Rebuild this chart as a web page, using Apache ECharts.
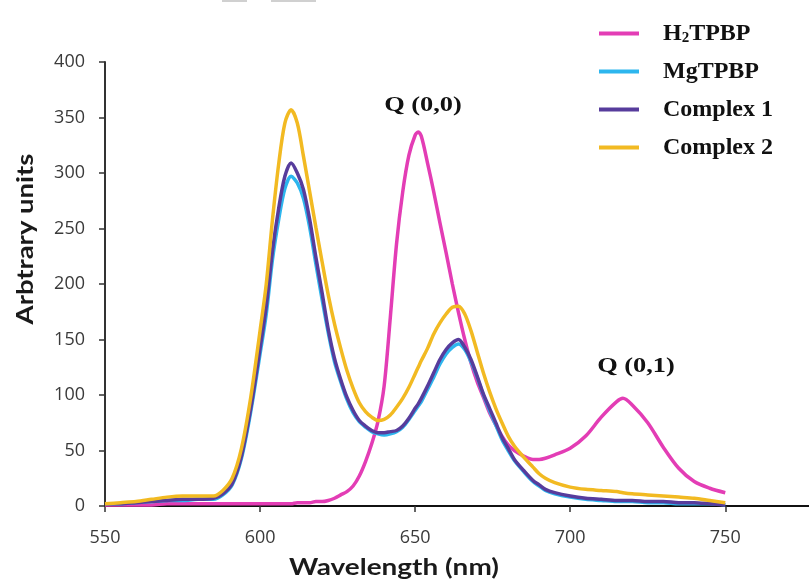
<!DOCTYPE html>
<html>
<head>
<meta charset="utf-8">
<script src="https://cdn.jsdelivr.net/npm/echarts@6/dist/echarts.min.js"></script>
<style>
html,body{margin:0;padding:0;background:#fff;}
#chart{width:809px;height:579px;}
</style>
</head>
<body>
<div id="chart"></div>
<script>
// Wavelength sample points (nm)
const wavelengths = [550,555,560,565,570,575,580,585,588,591,594,597,
  600,602,604,606,608,610,612,614,616,618,620,622,624,626,628,630,632,634,636,638,640,642,644,646,648,650,
  651,
  652,654,656,658,660,662,664,666,668,670,672,674,676,678,680,682,
  685,688,690,692,695,
  700,705,710,715,
  717,
  720,725,730,735,740,745,750];

const seriesNames = ['H2TPBP', 'MgTPBP', 'Complex 1', 'Complex 2'];

const h2tpbp = [1,1,1,1,2,2,2,2,
  2,2,2,2,
  2,2,2,2,2,2,3,3,3,4,4,5,7,10,13,18,27,40,56,76,108,170,236,283,316,334,
  337,
  333,309,283,255,228,200,174,150,129,112,98,84,73,63,55,50,
  45,42,42,43,46,
  52,63,80,94,
  97,
  91,75,53,34,22,16,12];

const mgtpbp = [2,2,3,4,5,5,6,6,
  10,19,43,85,
  137,173,222,258,286,297,291,277,251,218,186,156,130,112,96,84,76,71,67,65,64,65,67,71,78,86,
  90,
  94,105,116,128,137,143,146,141,130,116,100,86,73,60,50,41,
  31,22,18,14,11,
  8,6,5,4,
  4,
  4,3,3,2,2,2,1];

const complex1 = [2,2,3,4,5,6,6,7,
  11,20,45,88,
  142,180,230,268,297,309,300,285,258,224,192,159,133,114,98,86,77,72,68,66,66,67,68,72,79,88,
  92,
  97,108,120,132,141,147,150,143,132,117,101,88,75,62,52,42,
  32,23,19,15,12,
  9,7,6,5,
  5,
  5,4,4,3,3,2,1];

const complex2 = [2,3,4,6,8,9,9,9,
  14,25,52,98,
  158,200,258,308,345,357,345,315,283,251,220,190,164,142,122,106,93,85,80,77,78,82,89,97,107,119,
  125,
  131,142,155,165,173,179,180,173,158,139,120,103,88,75,63,54,
  44,35,29,25,21,
  17,15,14,13,
  12,
  11,10,9,8,7,5,3];

const xTicks = [550, 600, 650, 700, 750];
const yTicks = [0, 50, 100, 150, 200, 250, 300, 350, 400];
const annotations = ['Q (0,0)', 'Q (0,1)'];

const colors = ['#E33DB5', '#2DB6EE', '#573C9C', '#F2BA22'];
const values = [h2tpbp, mgtpbp, complex1, complex2];

const chart = echarts.init(document.getElementById('chart'), null, {renderer: 'canvas'});

const series = seriesNames.map((name, i) => ({
  name: name,
  type: 'line',
  data: wavelengths.map((w, j) => [w, values[i][j]]),
  showSymbol: false,
  smooth: 0.3,
  lineStyle: {width: 3.5, color: colors[i]},
  itemStyle: {color: colors[i]},
  z: 2 + i,
  emphasis: {disabled: true}
}));

const option = {
  animation: false,
  backgroundColor: '#ffffff',
  grid: {left: 105, right: 0, top: 62, bottom: 73, containLabel: false, outerBoundsMode: 'none'},
  xAxis: {
    type: 'value',
    min: xTicks[0],
    max: 777,
    interval: 50,
    axisLine: {show: true, lineStyle: {color: '#111', width: 2}},
    axisTick: {show: true, length: 6, lineStyle: {color: '#333', width: 1.5}},
    axisLabel: {
      show: true, margin: 23, showMaxLabel: false,
      fontFamily: 'Open Sans', fontSize: 18, color: '#3a3a3a',
      formatter: v => (xTicks.indexOf(v) >= 0 ? String(v) : '')
    },
    splitLine: {show: false}
  },
  yAxis: {
    type: 'value',
    min: yTicks[0],
    max: yTicks[yTicks.length - 1],
    interval: 50,
    axisLine: {show: true, lineStyle: {color: '#333', width: 2}},
    axisTick: {show: true, length: 6, lineStyle: {color: '#333', width: 1.5}},
    axisLabel: {
      show: true, margin: 20,
      fontFamily: 'Open Sans', fontSize: 18, color: '#3a3a3a'
    },
    splitLine: {show: false}
  },
  legend: {
    show: true,
    orient: 'vertical',
    left: 594,
    top: 16,
    itemWidth: 40,
    itemHeight: 4,
    itemGap: 13,
    icon: 'rect',
    data: seriesNames,
    formatter: name => name === 'H2TPBP' ? 'H{sub|2}TPBP' : name,
    textStyle: {
      fontFamily: 'Liberation Serif', fontWeight: 'bold', fontSize: 24,
      color: '#111', lineHeight: 25, padding: [0, 0, 0, 19],
      rich: {
        sub: {fontFamily: 'Liberation Serif', fontWeight: 'bold', fontSize: 15, color: '#111',
              verticalAlign: 'bottom', lineHeight: 25, padding: [6, 0, 0, 0]}
      }
    }
  },
  graphic: [
    {type: 'text', x: 423, y: 105, scaleX: 1.2,
     style: {text: annotations[0], font: 'bold 22px "Liberation Serif"', fill: '#111', align: 'center', verticalAlign: 'middle'}},
    {type: 'text', x: 636, y: 366, scaleX: 1.2,
     style: {text: annotations[1], font: 'bold 22px "Liberation Serif"', fill: '#111', align: 'center', verticalAlign: 'middle'}},
    {type: 'text', x: 394, y: 568, scaleX: 1.27,
     style: {text: 'Wavelength (nm)', font: 'bold 22px Lato', fill: '#1a1a1a', align: 'center', verticalAlign: 'middle'}},
    {type: 'text', x: 26, y: 239, rotation: Math.PI / 2, scaleX: 1.25,
     style: {text: 'Arbtrary units', font: 'bold 22px Lato', fill: '#1a1a1a', align: 'center', verticalAlign: 'middle'}},
    {type: 'rect', shape: {x: 222, y: 0, width: 25, height: 2}, style: {fill: '#d0d0d0'}},
    {type: 'rect', shape: {x: 271, y: 0, width: 45, height: 2}, style: {fill: '#d0d0d0'}}
  ],
  series: series
};

chart.setOption(option);
</script>
</body>
</html>
